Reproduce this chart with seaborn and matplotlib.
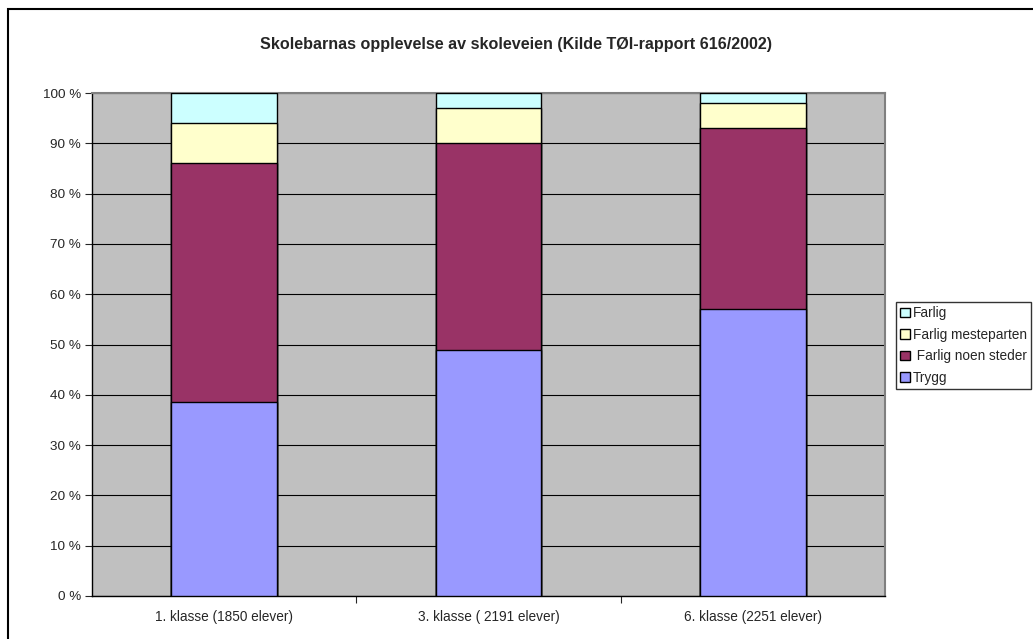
import pandas as pd
import numpy as np
import matplotlib
matplotlib.use("Agg")
import matplotlib.pyplot as plt
from matplotlib.patches import Patch, Rectangle
import seaborn as sns

# data (percent)
klasser = ["1. klasse (1850 elever)", "3. klasse ( 2191 elever)", "6. klasse (2251 elever)"]
trygg = [38.5, 49, 57]
farlig_noen_steder = [47.5, 41, 36]
farlig_mesteparten = [8, 7, 5]
farlig = [6, 3, 2]

series = ["Trygg", "Farlig noen steder", "Farlig mesteparten", "Farlig"]
colors = {"Trygg": "#9999FF", "Farlig noen steder": "#993366",
          "Farlig mesteparten": "#FFFFCC", "Farlig": "#CCFFFF"}

df = pd.DataFrame({"klasse": klasser, "Trygg": trygg,
                   "Farlig noen steder": farlig_noen_steder,
                   "Farlig mesteparten": farlig_mesteparten, "Farlig": farlig})
cum = df[series].cumsum(axis=1)
cum["klasse"] = df["klasse"]

sns.set_style("white")
plt.rcParams['font.family'] = ['Liberation Sans', 'DejaVu Sans']

fig = plt.figure(figsize=(10.33, 6.39), dpi=100)
ax = fig.add_axes([92/1033, 1-596/639, (885-92)/1033, (596-93)/639])
ax.set_facecolor("#C0C0C0")

# stacked bars: draw cumulative tops from the highest down
for s in reversed(series):
    sns.barplot(data=cum, x="klasse", y=s, ax=ax, color=colors[s], width=0.4,
                edgecolor="black", linewidth=1, saturation=1, zorder=3)

ax.set_ylim(0, 100)
ax.set_xlim(-0.5, 2.5)
ax.set_yticks(np.arange(0, 101, 10))
ax.set_yticklabels([f"{v} %" for v in range(0, 101, 10)], fontsize=9.7)
ax.yaxis.grid(True, color="black", linewidth=0.8, zorder=0)
ax.set_axisbelow(True)
ax.set_xlabel("")
ax.set_ylabel("")
ax.tick_params(axis="x", length=0, labelsize=9.8, pad=10)
ax.tick_params(axis="y", direction="out", length=5, width=0.8, left=True, pad=3)
ax.set_xticks([0.5, 1.5], minor=True)
ax.tick_params(axis="x", which="minor", direction="out", length=5, width=0.8, bottom=True)
for side in ["left", "bottom"]:
    ax.spines[side].set_color("black")
    ax.spines[side].set_linewidth(1)
for side in ["top", "right"]:
    ax.spines[side].set_color("#808080")
    ax.spines[side].set_linewidth(1.5)

fig.text(0.5, 1-45/639, "Skolebarnas opplevelse av skoleveien (Kilde TØI-rapport 616/2002)",
         ha="center", va="center", fontsize=11.6, fontweight="bold")

handles = [Patch(facecolor=colors[s], edgecolor="black", label=s) for s in reversed(series)]
labels = ["Farlig", "Farlig mesteparten", " Farlig noen steder", "Trygg"]
leg = fig.legend(handles=handles, labels=labels, loc="upper left",
                 bbox_to_anchor=(896/1033, 1-302/639), fontsize=9.8, frameon=True,
                 fancybox=False, edgecolor="black", handlelength=0.7, handleheight=0.7,
                 handletextpad=0.25, borderpad=0.3, labelspacing=0.55, borderaxespad=0)
leg.get_frame().set_linewidth(1)

# outer chart border
fig.patches.append(Rectangle((8/1033, -0.1), 1.2, 1-9/639+0.1, transform=fig.transFigure,
                             fill=False, edgecolor="black", linewidth=1.5))

fig.savefig("out.png", dpi=100)
